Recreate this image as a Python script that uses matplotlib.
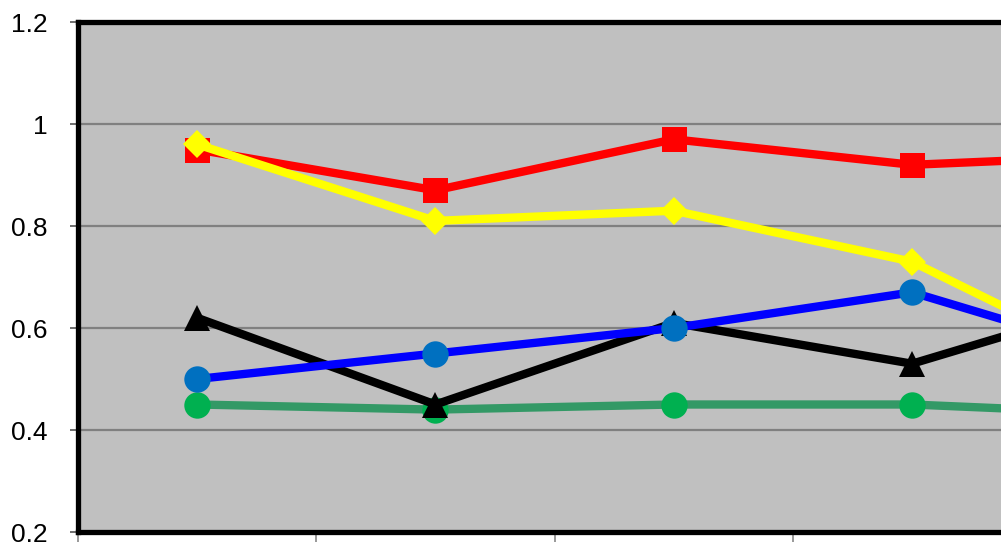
import matplotlib
matplotlib.use('Agg')
import matplotlib.pyplot as plt

# ── Datos ─────────────────────────────────────────────────────────
categorias = [1, 2, 3, 4, 5]
serie_roja = [0.95, 0.87, 0.97, 0.92, 0.94]
serie_amarilla = [0.96, 0.81, 0.83, 0.73, 0.50]
serie_azul = [0.50, 0.55, 0.60, 0.67, 0.53]
serie_negra = [0.62, 0.45, 0.61, 0.53, 0.67]
serie_verde = [0.45, 0.44, 0.45, 0.45, 0.43]
y_ticks = [0.2, 0.4, 0.6, 0.8, 1.0, 1.2]
y_labels = ['0.2', '0.4', '0.6', '0.8', '1', '1.2']

plt.rcParams['font.family'] = ['Liberation Sans', 'DejaVu Sans']

W, H = 1001, 544
fig = plt.figure(figsize=(W / 100, H / 100), dpi=100)
paso = 238.3
ax = fig.add_axes([78 / W, 12 / H, 5 * paso / W, 510 / H])
ax.set_facecolor('#C0C0C0')

lw = 6
# orden de dibujo: verde, negra, azul, roja, amarilla
ax.plot(categorias, serie_verde, '-', color='#339966', lw=lw,
        marker='o', ms=19, mfc='#00B050', mec='#00B050', mew=0, zorder=3)
ax.plot(categorias, serie_negra, '-', color='black', lw=lw,
        marker='^', ms=19, mfc='black', mew=0, zorder=4)
ax.plot(categorias, serie_azul, '-', color='#0000FF', lw=lw,
        marker='o', ms=19, mfc='#0070C0', mec='#0070C0', mew=0, zorder=5)
ax.plot(categorias, serie_roja, '-', color='#FF0000', lw=lw,
        marker='s', ms=18, mfc='#FF0000', mew=0, zorder=6)
ax.plot(categorias, serie_amarilla, '-', color='#FFFF00', lw=lw,
        marker='D', ms=14, mfc='#FFFF00', mew=0, zorder=7)

ax.set_xlim(0.5, len(categorias) + 0.5)
ax.set_ylim(0.2, 1.2)

ax.set_yticks(y_ticks)
ax.set_yticklabels(y_labels)
ax.set_xticks([c - 0.5 for c in categorias] + [len(categorias) + 0.5])
ax.set_xticklabels([])

ax.yaxis.grid(True, color='#808080', lw=1.6, zorder=1)
ax.set_axisbelow(True)

ax.tick_params(axis='y', direction='out', length=6, width=1.2,
               color='#555555', labelsize=19, pad=16)
ax.tick_params(axis='x', direction='out', length=7, width=1.2,
               color='#888888')

for sp in ax.spines.values():
    sp.set_linewidth(3.8)
    sp.set_color('black')
    sp.set_zorder(10)

fig.savefig('out.png', dpi=100)
